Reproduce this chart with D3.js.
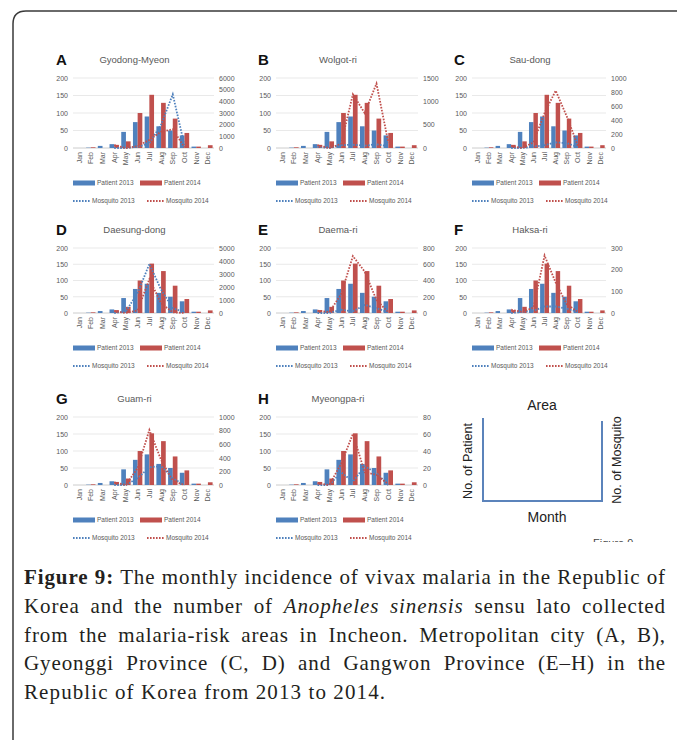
<!DOCTYPE html>
<html>
<head>
<meta charset="utf-8">
<script src="https://cdn.jsdelivr.net/npm/d3@7"></script>
<style>
  body { margin: 0; background: #fff; }
  #wrap { position: relative; width: 677px; height: 740px; overflow: hidden; }
  svg { position: absolute; left: 0; top: 0; }
  .caption { position: absolute; left: 24px; width: 642px; top: 563px;
    font-family: "Liberation Serif", "Times New Roman", serif; font-size: 21px;
    letter-spacing: 0.9px; color: #231f20; }
  .caption div { height: 28.8px; line-height: 28.8px; white-space: nowrap;
    text-align: justify; text-align-last: justify; }
  .caption div.last { text-align-last: left; letter-spacing: 1.1px; }
</style>
</head>
<body>
<div id="wrap"></div>
<script>
// monthly values
const months = ["Jan","Feb","Mar","Apr","May","Jun","Jul","Aug","Sep","Oct","Nov","Dec"];
const patient2013 = [0, 1, 6, 11, 46, 74, 90, 62, 50, 36, 4, 0];
const patient2014 = [0, 2, 0, 9, 19, 100, 152, 129, 84, 43, 4, 8];

// mosquito catches per area (Apr - Oct)
const mosqA2013 = [null,null,null, 0, 0, 100, 400, 2000, 4600, 200, null,null];
const mosqA2014 = [null,null,null, 250, 0, 150, 700, 1400, 1600, 50, null,null];
const mosqB2013 = [null,null,null, 30, 0, 60, 70, 50, 80, 40, null,null];
const mosqB2014 = [null,null,null, 60, 0, 90, 1150, 750, 1380, 120, null,null];
const mosqC2013 = [null,null,null, 0, 0, 20, 40, 80, 70, 10, null,null];
const mosqC2014 = [null,null,null, 30, 0, 80, 500, 820, 450, 30, null,null];
const mosqD2013 = [null,null,null, 0, 130, 1540, 3770, 1800, 380, 50, null,null];
const mosqD2014 = [null,null,null, 150, 0, 200, 2600, 750, 50, 0, null,null];
const mosqE2013 = [null,null,null, 0, 0, 40, 20, 100, 60, 10, null,null];
const mosqE2014 = [null,null,null, 30, 10, 230, 700, 510, 160, 10, null,null];
const mosqF2013 = [null,null,null, 0, 5, 10, 30, 30, 20, 5, null,null];
const mosqF2014 = [null,null,null, 15, 5, 25, 265, 140, 40, 5, null,null];
const mosqG2013 = [null,null,null, 0, 0, 100, 260, 280, 100, 0, null,null];
const mosqG2014 = [null,null,null, 40, 0, 250, 810, 370, 60, 0, null,null];
const mosqH2013 = [null,null,null, 0, 0, 15, 4, 22, 14, 0, null,null];
const mosqH2014 = [null,null,null, 2, 0, 25, 60, 15, 12, 1, null,null];

const panelLetters = ["A","B","C","D","E","F","G","H"];
const areaNames = ["Gyodong-Myeon","Wolgot-ri","Sau-dong","Daesung-dong","Daema-ri","Haksa-ri","Guam-ri","Myeongpa-ri"];
const mosquitoMax = [6000, 1500, 1000, 5000, 800, 300, 1000, 80];
const mosquitoStep = [1000, 500, 200, 1000, 200, 100, 200, 20];
const patientTicks = [0, 50, 100, 150, 200];
const seriesNames = ["Patient 2013","Patient 2014","Mosquito 2013","Mosquito 2014"];

const mosq2013 = [mosqA2013, mosqB2013, mosqC2013, mosqD2013, mosqE2013, mosqF2013, mosqG2013, mosqH2013];
const mosq2014 = [mosqA2014, mosqB2014, mosqC2014, mosqD2014, mosqE2014, mosqF2014, mosqG2014, mosqH2014];

const blue = "#4f81bd", red = "#c0504d", grey = "#595959";
const font = "'Liberation Sans', Arial, sans-serif";

//layout of the 3x3 grid
const colLeft = [73, 276, 472];
const colRight = [214, 418, 606];
const letterX = [56, 258, 454];
const rowTop = [78, 248, 417];
const rowBottom = [148, 313, 485];
const titleY = [60, 230, 399];

const wrap = d3.select("#wrap");
const svg = wrap.append("svg").attr("width", 677).attr("height", 740);

// outer frame
svg.append("path")
  .attr("d", "M13,745 V24 Q13,11 26,11 H690")
  .attr("fill", "none").attr("stroke", "#3a3a3a").attr("stroke-width", 1.5);

function drawPanel(i) {
  let col = i % 3, row = Math.floor(i / 3);
  let left = colLeft[col], right = colRight[col];
  let top = rowTop[row], bottom = rowBottom[row];
  let g = svg.append("g").attr("font-family", font);

  let x = d3.scaleBand().domain(months).range([left, right]).paddingInner(0.2).paddingOuter(0.12);
  let sub = d3.scaleBand().domain([0, 1]).range([0, x.bandwidth()]);
  let yL = d3.scaleLinear().domain([0, 200]).range([bottom, top]);
  let yR = d3.scaleLinear().domain([0, mosquitoMax[i]]).range([bottom, top]);

  //gridlines
  g.append("g").selectAll("line").data(patientTicks).join("line")
    .attr("x1", left).attr("x2", right)
    .attr("y1", d => yL(d)).attr("y2", d => yL(d))
    .attr("stroke", d => d == 0 ? "#bfbfbf" : "#e3e3e3").attr("stroke-width", 0.8);

  //left axis
  let axL = g.append("g").attr("transform", `translate(${left - 2},0)`)
    .call(d3.axisLeft(yL).tickValues(patientTicks).tickSize(0).tickPadding(3));
  axL.select(".domain").remove();
  axL.selectAll("text").attr("fill", grey).attr("font-size", 7).attr("font-family", font);

  //right axis
  let axR = g.append("g").attr("transform", `translate(${right + 2},0)`)
    .call(d3.axisRight(yR).tickValues(d3.range(0, mosquitoMax[i] + 1, mosquitoStep[i]))
      .tickFormat(d3.format("d")).tickSize(0).tickPadding(3));
  axR.select(".domain").remove();
  axR.selectAll("text").attr("fill", grey).attr("font-size", 7).attr("font-family", font);

  //month axis
  let axB = g.append("g").attr("transform", `translate(0,${bottom})`)
    .call(d3.axisBottom(x).tickSize(0));
  axB.select(".domain").remove();
  axB.selectAll("text")
    .attr("transform", "rotate(-90)")
    .attr("text-anchor", "end")
    .attr("x", -4).attr("y", 0).attr("dy", "0.35em")
    .attr("fill", grey).attr("font-size", 7).attr("font-family", font);

  //patient bars
  [patient2013, patient2014].forEach((vals, k) => {
    g.append("g").selectAll("rect").data(vals).join("rect")
      .attr("x", (d, j) => x(months[j]) + sub(k))
      .attr("width", sub.bandwidth())
      .attr("y", d => yL(d))
      .attr("height", d => bottom - yL(d))
      .attr("fill", k == 0 ? blue : red);
  });

  //mosquito lines
  let line = d3.line()
    .defined(d => d != null)
    .x((d, j) => x(months[j]) + x.bandwidth() / 2)
    .y(d => yR(d));
  [mosq2013[i], mosq2014[i]].forEach((vals, k) => {
    g.append("path").datum(vals)
      .attr("d", line)
      .attr("fill", "none")
      .attr("stroke", k == 0 ? blue : red)
      .attr("stroke-width", 1.8)
      .attr("stroke-dasharray", "1.6,1.4");
  });

  //letter + title
  g.append("text").text(panelLetters[i])
    .attr("x", letterX[col]).attr("y", titleY[row] + 5)
    .attr("font-size", 15).attr("font-weight", "bold").attr("fill", "#111");
  g.append("text").text(areaNames[i])
    .attr("x", (left + right) / 2 - 9).attr("y", titleY[row] + 3)
    .attr("text-anchor", "middle").attr("font-size", 9.5).attr("fill", grey);

  //legend
  let ly1 = bottom + 35, ly2 = bottom + 53;
  let leg = [
    {name: seriesNames[0], color: blue, bar: true, x: left, y: ly1},
    {name: seriesNames[1], color: red, bar: true, x: left + 67, y: ly1},
    {name: seriesNames[2], color: blue, bar: false, x: left, y: ly2},
    {name: seriesNames[3], color: red, bar: false, x: left + 74, y: ly2}
  ];
  leg.forEach(l => {
    let w = l.bar ? 22 : 17;
    if (l.bar) {
      g.append("rect").attr("x", l.x).attr("y", l.y - 2.5).attr("width", w).attr("height", 5).attr("fill", l.color);
    } else {
      g.append("line").attr("x1", l.x).attr("x2", l.x + w).attr("y1", l.y).attr("y2", l.y)
        .attr("stroke", l.color).attr("stroke-width", 1.8).attr("stroke-dasharray", "1.6,1.4");
    }
    g.append("text").text(l.name)
      .attr("x", l.x + w + 2).attr("y", l.y).attr("dy", "0.35em")
      .attr("font-size", 6.5).attr("fill", grey);
  });
}

for (let i = 0; i < 8; i++) drawPanel(i);

//key panel
let key = svg.append("g").attr("font-family", "'Liberation Sans', Arial, sans-serif").attr("fill", "#222");
key.append("path")
  .attr("d", "M483,418 V501 H602 V421")
  .attr("fill", "none").attr("stroke", "#5b83bb").attr("stroke-width", 2);
key.append("text").text("Area").attr("x", 542).attr("y", 410).attr("text-anchor", "middle").attr("font-size", 14);
key.append("text").text("Month").attr("x", 547).attr("y", 522).attr("text-anchor", "middle").attr("font-size", 14);
key.append("text").text("No. of Patient")
  .attr("transform", "translate(472,461) rotate(-90)").attr("text-anchor", "middle").attr("font-size", 12.5);
key.append("text").text("No. of Mosquito")
  .attr("transform", "translate(621,460) rotate(-90)").attr("text-anchor", "middle").attr("font-size", 12.5);
svg.append("clipPath").attr("id", "figclip").append("rect").attr("x", 580).attr("y", 530).attr("width", 60).attr("height", 12);
key.append("text").text("Figure 9").attr("x", 593).attr("y", 547).attr("font-size", 11)
  .attr("fill", "#444").attr("clip-path", "url(#figclip)");

//caption
const captionLines = [
  "<b>Figure 9:</b> The monthly incidence of vivax malaria in the Republic of",
  "Korea and the number of <i>Anopheles sinensis</i> sensu lato collected",
  "from the malaria-risk areas in Incheon. Metropolitan city (A, B),",
  "Gyeonggi Province (C, D) and Gangwon Province (E–H) in the",
  "Republic of Korea from 2013 to 2014."
];
let cap = wrap.append("div").attr("class", "caption");
cap.selectAll("div").data(captionLines).join("div")
  .attr("class", (d, i) => i == captionLines.length - 1 ? "last" : null)
  .html(d => d);
</script>
</body>
</html>
